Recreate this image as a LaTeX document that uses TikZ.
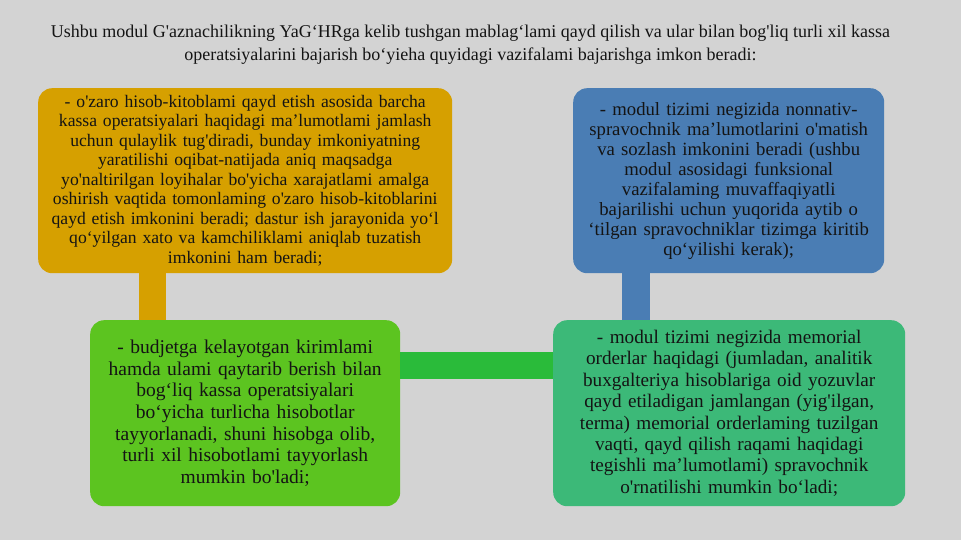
\documentclass[tikz,border=0pt]{standalone}
\usepackage{fontspec}
\setmainfont{Liberation Serif}[Ligatures=TeXOff]
\definecolor{bggray}{HTML}{D3D3D3}
\definecolor{goldbox}{HTML}{D6A000}
\definecolor{bluebox}{HTML}{4A7DB4}
\definecolor{greenbox}{HTML}{5CC420}
\definecolor{greenbar}{HTML}{2ABB3A}
\definecolor{tealbox}{HTML}{3CB978}
\definecolor{ink}{HTML}{141414}
\tikzset{
  card/.style={anchor=north west, rounded corners=14pt, inner sep=2pt, align=center, text=ink},
  bar/.style={line width=#1, line cap=butt},
}
\begin{document}
\begin{tikzpicture}[x=1pt,y=-1pt]
\fill[bggray] (0,0) rectangle (961,540);
\useasboundingbox (0,0) rectangle (961,540);
\node[text=ink, align=center, font=\fontsize{18}{23}\selectfont] (title) at (470.5,45)
  {Ushbu modul G'aznachilikning YaG‘HRga kelib tushgan mablag‘lami qayd qilish va ular bilan bog'liq turli xil kassa\\
   operatsiyalarini bajarish bo‘yieha quyidagi vazifalami bajarishga imkon beradi:};
\node[card, fill=goldbox, minimum width=414pt, minimum height=185pt, text width=410pt,
  font=\fontsize{17.6}{19.5}\selectfont] (b1) at (38,88)
  {- o'zaro hisob-kitoblami qayd etish asosida barcha\\
   kassa operatsiyalari haqidagi ma’lumotlami jamlash\\
   uchun qulaylik tug'diradi, bunday imkoniyatning\\
   yaratilishi oqibat-natijada aniq maqsadga\\
   yo'naltirilgan loyihalar bo'yicha xarajatlami amalga\\
   oshirish vaqtida tomonlaming o'zaro hisob-kitoblarini\\
   qayd etish imkonini beradi; dastur ish jarayonida yo‘l\\
   qo‘yilgan xato va kamchiliklami aniqlab tuzatish\\
   imkonini ham beradi;};
\node[card, fill=bluebox, minimum width=311pt, minimum height=185pt, text width=307pt,
  font=\fontsize{18.7}{20}\selectfont] (b2) at (573,88)
  {- modul tizimi negizida nonnativ-\\
   spravochnik ma’lumotlarini o'matish\\
   va sozlash imkonini beradi (ushbu\\
   modul asosidagi funksional\\
   vazifalaming muvaffaqiyatli\\
   bajarilishi uchun yuqorida aytib o\\
   ‘tilgan spravochniklar tizimga kiritib\\
   qo‘yilishi kerak);};
\node[card, fill=greenbox, minimum width=310pt, minimum height=186pt, text width=306pt,
  font=\fontsize{19.5}{21.7}\selectfont] (b3) at (90,320)
  {- budjetga kelayotgan kirimlami\\
   hamda ulami qaytarib berish bilan\\
   bog‘liq kassa operatsiyalari\\
   bo‘yicha turlicha hisobotlar\\
   tayyorlanadi, shuni hisobga olib,\\
   turli xil hisobotlami tayyorlash\\
   mumkin bo'ladi;};
\node[card, fill=tealbox, minimum width=352pt, minimum height=186pt, text width=348pt,
  font=\fontsize{19.2}{21.4}\selectfont] (b4) at (553,320)
  {- modul tizimi negizida memorial\\
   orderlar haqidagi (jumladan, analitik\\
   buxgalteriya hisoblariga oid yozuvlar\\
   qayd etiladigan jamlangan (yig'ilgan,\\
   terma) memorial orderlaming tuzilgan\\
   vaqti, qayd qilish raqami haqidagi\\
   tegishli ma’lumotlami) spravochnik\\
   o'rnatilishi mumkin bo‘ladi;};
\draw[bar=27pt, goldbox] ([xshift=114.5pt]b1.south west) -- ([xshift=62.5pt]b3.north west);
\draw[bar=28pt, bluebox] ([xshift=63pt]b2.south west) -- ([xshift=83pt]b4.north west);
\draw[bar=27pt, greenbar] ([yshift=-45.5pt]b3.north east) -- ([yshift=-45.5pt]b4.north west);
\end{tikzpicture}
\end{document}
